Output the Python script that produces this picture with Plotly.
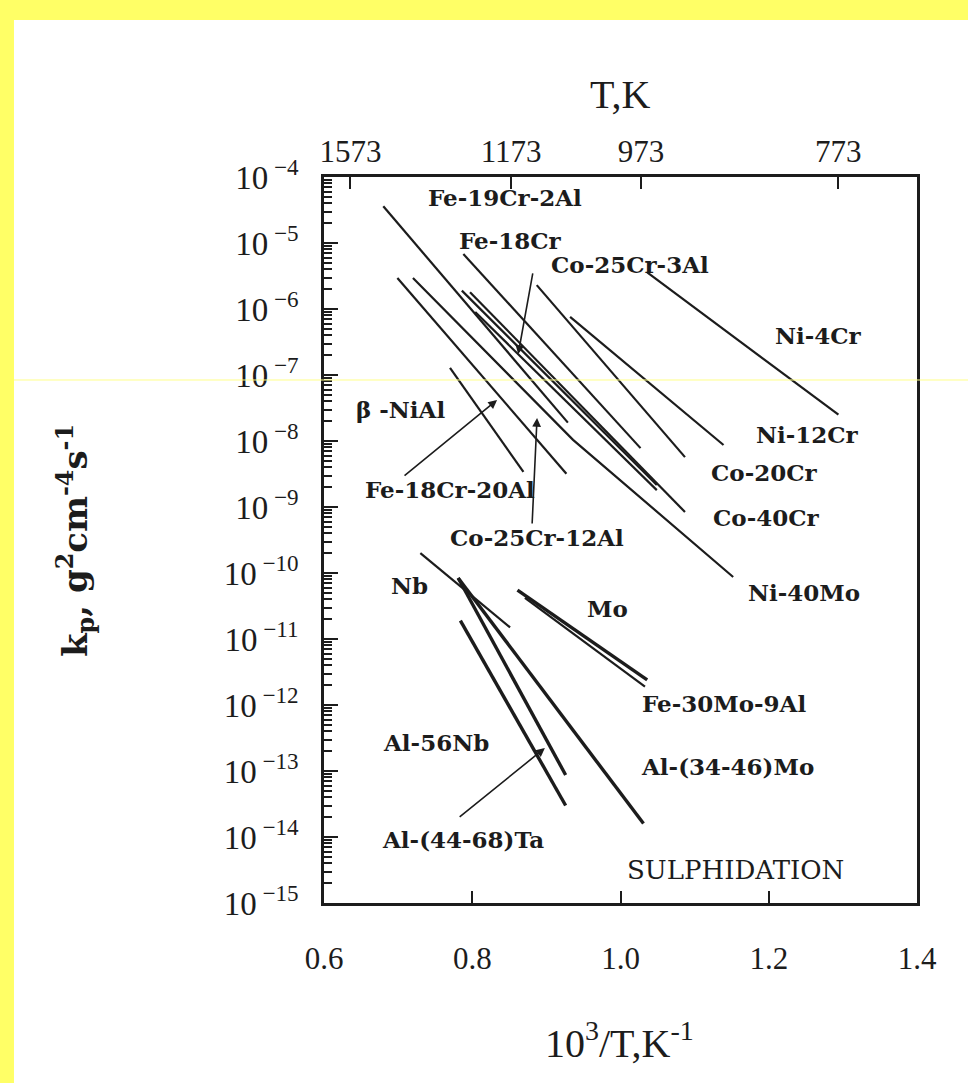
import plotly.graph_objects as go

# ---------------- data ----------------
# x: 10^3/T (K^-1), y: kp (g^2 cm^-4 s^-1)
fe19cr2al_x = [0.680, 0.929];          fe19cr2al_y = [3.6e-5, 1.9e-8]
fe18cr_x = [0.788, 1.027];             fe18cr_y = [6.8e-6, 7.8e-9]
co25cr3al_x = [0.786, 1.049];          co25cr3al_y = [1.9e-6, 2.15e-9]
co40cr_x = [0.797, 1.087];             co40cr_y = [1.8e-6, 8.4e-10]
co20cr_x = [0.887, 1.087];             co20cr_y = [2.3e-6, 5.7e-9]
ni12cr_x = [0.932, 1.139];             ni12cr_y = [7.6e-7, 8.7e-9]
ni4cr_x = [1.036, 1.294];              ni4cr_y = [3.6e-6, 2.5e-8]
ni40mo_x = [0.720, 0.936, 1.152];      ni40mo_y = [2.95e-6, 1.04e-8, 8.7e-11]
bnial_x = [0.770, 0.869];              bnial_y = [1.28e-7, 3.4e-9]
fe18cr20al_x = [0.699, 0.927];         fe18cr20al_y = [2.95e-6, 3.2e-9]
co25cr12al_x = [0.804, 1.049];         co25cr12al_y = [9.0e-7, 1.8e-9]

nb_x = [0.730, 0.851];                 nb_y = [2.0e-10, 1.5e-11]
al3446mo_x = [0.781, 1.031];           al3446mo_y = [8.4e-11, 1.6e-14]
al56nb_x = [0.781, 0.926];             al56nb_y = [8.4e-11, 8.7e-14]
al4468ta_x = [0.784, 0.926];           al4468ta_y = [1.9e-11, 3.0e-14]
mo_x = [0.861, 1.036];                 mo_y = [5.5e-11, 2.4e-12]
fe30mo9al_x = [0.871, 1.033];          fe30mo9al_y = [4.2e-11, 1.9e-12]

x_ticks = [0.6, 0.8, 1.0, 1.2, 1.4]
x_ticktext = ["0.6", "0.8", "1.0", "1.2", "1.4"]
top_T_labels = [1573, 1173, 973, 773]
y_exponents = [-4, -5, -6, -7, -8, -9, -10, -11, -12, -13, -14, -15]

# ---------------- styling ----------------
INK = "#1c1c1c"
thin_series = [
    (fe19cr2al_x, fe19cr2al_y), (fe18cr_x, fe18cr_y), (co25cr3al_x, co25cr3al_y),
    (co40cr_x, co40cr_y), (co20cr_x, co20cr_y), (ni12cr_x, ni12cr_y),
    (ni4cr_x, ni4cr_y), (ni40mo_x, ni40mo_y), (bnial_x, bnial_y),
    (fe18cr20al_x, fe18cr20al_y), (co25cr12al_x, co25cr12al_y), (nb_x, nb_y),
    (fe30mo9al_x, fe30mo9al_y),
]
thick_series = [
    (al3446mo_x, al3446mo_y), (al56nb_x, al56nb_y), (al4468ta_x, al4468ta_y),
    (mo_x, mo_y),
]

fig = go.Figure()
for xs, ys in thin_series:
    fig.add_trace(go.Scatter(x=xs, y=ys, mode="lines",
                             line=dict(color=INK, width=2.2),
                             showlegend=False, hoverinfo="skip"))
for xs, ys in thick_series:
    fig.add_trace(go.Scatter(x=xs, y=ys, mode="lines",
                             line=dict(color=INK, width=3.4),
                             showlegend=False, hoverinfo="skip"))

# invisible traces so that the top (temperature) axis and the minor-tick axis are drawn
fig.add_trace(go.Scatter(x=[0.6, 1.4], y=[1e-4, 1e-4], xaxis="x2", mode="lines",
                         line=dict(width=0), opacity=0, showlegend=False,
                         hoverinfo="skip"))
fig.add_trace(go.Scatter(x=[0.6, 1.4], y=[1e-4, 1e-4], yaxis="y2", mode="lines",
                         line=dict(width=0), opacity=0, showlegend=False,
                         hoverinfo="skip"))

# ---------------- labels ----------------
label_font = dict(family="DejaVu Serif", size=23, color=INK, weight="bold")
labels = [
    ("Fe-19Cr-2Al", 0.844, -4.318),
    ("Fe-18Cr", 0.852, -4.955),
    ("Co-25Cr-3Al", 1.013, -5.333),
    ("Ni-4Cr", 1.267, -6.394),
    ("Ni-12Cr", 1.252, -7.909),
    ("Co-20Cr", 1.194, -8.470),
    ("Co-40Cr", 1.197, -9.152),
    ("Ni-40Mo", 1.248, -10.288),
    ("β -NiAl", 0.703, -7.530),
    ("Fe-18Cr-20Al", 0.770, -8.742),
    ("Co-25Cr-12Al", 0.887, -9.455),
    ("Nb", 0.716, -10.182),
    ("Mo", 0.983, -10.545),
    ("Fe-30Mo-9Al", 1.140, -11.970),
    ("Al-56Nb", 0.751, -12.561),
    ("Al-(34-46)Mo", 1.145, -12.939),
    ("Al-(44-68)Ta", 0.788, -14.045),
]
annotations = []
for txt, lx, ly in labels:
    annotations.append(dict(x=lx, y=ly, xref="x", yref="y", text=txt,
                            showarrow=False, font=label_font,
                            xanchor="center", yanchor="middle"))

annotations.append(dict(x=1.155, y=-14.5, xref="x", yref="y", text="SULPHIDATION",
                        showarrow=False, xanchor="center", yanchor="middle",
                        font=dict(family="DejaVu Serif", size=26, color=INK)))

# pointer arrows (tip x, tip log-y, tail x, tail log-y)
arrows = [
    (0.862, -6.682, 0.882, -5.439),
    (0.8335, -7.379, 0.7066, -8.545),
    (0.8874, -7.652, 0.8807, -9.273),
    (0.898, -12.652, 0.781, -13.712),
]
for tx, ty, axx, ayy in arrows:
    annotations.append(dict(x=tx, y=ty, ax=axx, ay=ayy, xref="x", yref="y",
                            axref="x", ayref="y", text="", showarrow=True,
                            arrowhead=2, arrowsize=1.1, arrowwidth=1.6,
                            arrowcolor=INK, standoff=0, startstandoff=0))

# axis titles
annotations.append(dict(x=0.499, y=1.113, xref="paper", yref="paper", text="T,K",
                        showarrow=False, xanchor="center", yanchor="middle",
                        font=dict(family="Liberation Serif", size=40, color=INK)))
annotations.append(dict(x=0.499, y=-0.189, xref="paper", yref="paper",
                        text="10<sup>3</sup>/T,K<sup>-1</sup>",
                        showarrow=False, xanchor="center", yanchor="middle",
                        font=dict(family="Liberation Serif", size=40, color=INK)))
annotations.append(dict(x=-0.42, y=0.5, xref="paper", yref="paper",
                        text="k<sub>p</sub>, g<sup>2</sup>cm<sup>-4</sup>s<sup>-1</sup>",
                        textangle=-90, showarrow=False,
                        xanchor="center", yanchor="middle",
                        font=dict(family="DejaVu Serif", size=34, color=INK, weight="bold")))

# ---------------- scan decorations ----------------
YEL = "#ffff66"
shapes = [
    dict(type="rect", xref="paper", yref="paper", x0=-0.547, x1=-0.5228,
         y0=-0.25, y1=1.25, fillcolor=YEL, line=dict(width=0), layer="above"),
    dict(type="rect", xref="paper", yref="paper", x0=-0.547, x1=1.09,
         y0=1.2163, y1=1.25, fillcolor=YEL, line=dict(width=0), layer="above"),
    dict(type="line", xref="paper", yref="paper", x0=-0.5228, x1=1.09,
         y0=0.7204, y1=0.7204, line=dict(color="#ffff88", width=1), layer="above"),
]

minor_vals = [m * 10.0 ** e for e in range(-15, -4) for m in range(2, 10)]

fig.update_layout(
    width=968, height=1083, autosize=False,
    margin=dict(l=324, r=51, t=177, b=180),
    paper_bgcolor="white", plot_bgcolor="white",
    annotations=annotations, shapes=shapes,
    xaxis=dict(range=[0.6, 1.4], tickmode="array", tickvals=x_ticks,
               ticktext=x_ticktext, ticks="inside", ticklen=12, tickwidth=2.2,
               tickcolor=INK, showline=True, linewidth=2.6, linecolor=INK,
               mirror=True, showgrid=False, zeroline=False,
               ticklabelstandoff=26,
               tickfont=dict(family="Liberation Serif", size=31, color=INK)),
    xaxis2=dict(range=[0.6, 1.4], overlaying="x", side="top", anchor="y",
                tickmode="array", tickvals=[1000.0 / t for t in top_T_labels],
                ticktext=[str(t) for t in top_T_labels], ticks="inside",
                ticklen=12, tickwidth=2.2, tickcolor=INK, showline=False,
                showgrid=False, zeroline=False, ticklabelstandoff=8,
                tickfont=dict(family="Liberation Serif", size=31, color=INK)),
    yaxis=dict(type="log", range=[-15, -4], tickmode="array",
               tickvals=[10.0 ** e for e in y_exponents],
               ticktext=["10<sup> −%d</sup>" % (-e) for e in y_exponents],
               ticks="inside", ticklen=14, tickwidth=2.4, tickcolor=INK,
               showline=True, linewidth=2.6, linecolor=INK, mirror=True,
               showgrid=False, zeroline=False, ticklabelstandoff=16,
               tickfont=dict(family="Liberation Serif", size=33, color=INK)),
    yaxis2=dict(type="log", range=[-15, -4], overlaying="y", side="left",
                anchor="x", tickmode="array", tickvals=minor_vals,
                showticklabels=False, ticks="inside", ticklen=8, tickwidth=1.8,
                tickcolor=INK, showline=False, showgrid=False, zeroline=False),
)

fig.write_html("out.html")
